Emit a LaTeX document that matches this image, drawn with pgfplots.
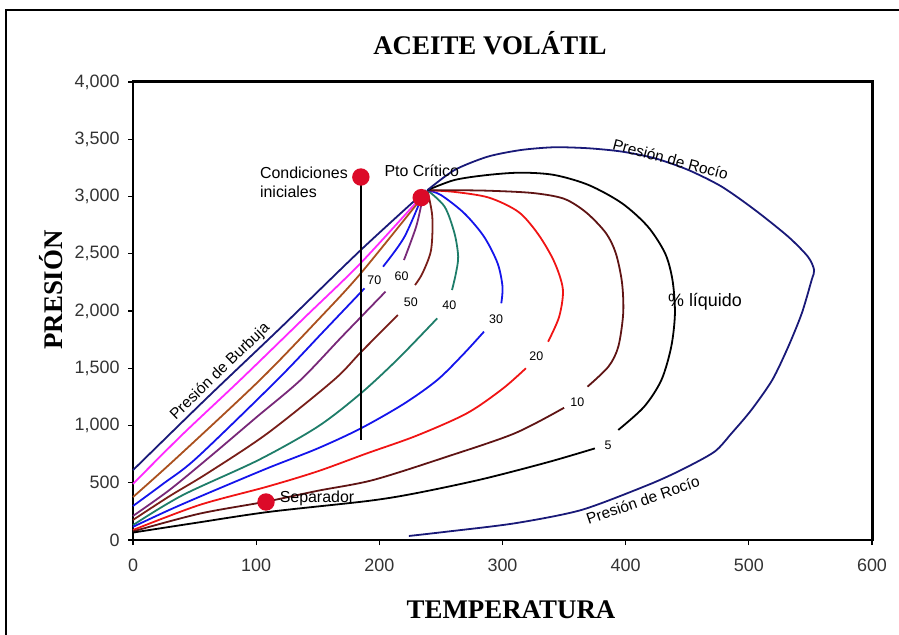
\documentclass[border=0pt]{standalone}
\usepackage{fontspec}
\setmainfont{Liberation Sans}
\newfontfamily\tnr{Liberation Serif}
\usepackage{pgfplots}
\pgfplotsset{compat=1.18}
\definecolor{navy}{RGB}{25,25,120}
\definecolor{mag}{RGB}{255,40,255}
\definecolor{brownA}{RGB}{170,80,30}
\definecolor{blueA}{RGB}{20,20,235}
\definecolor{purp}{RGB}{120,40,120}
\definecolor{dbrown}{RGB}{120,30,25}
\definecolor{tealA}{RGB}{30,125,105}
\definecolor{redA}{RGB}{240,20,20}
\definecolor{dbrownB}{RGB}{95,20,20}
\definecolor{mred}{RGB}{220,10,40}
\begin{document}
\begin{tikzpicture}
\useasboundingbox (0,0) rectangle (899bp,635bp);
\draw[line width=2.5bp] (6bp,-2bp) -- (6bp,625bp) -- (902bp,625bp);
\begin{axis}[
  at={(133bp,95bp)}, anchor=south west,
  scale only axis, width=739bp, height=458bp,
  xmin=0, xmax=600, ymin=0, ymax=4000,
  xtick={0,100,...,600}, ytick={0,500,...,4000},
  xtick pos=bottom, ytick pos=left,
  tick align=outside, major tick length=5bp,
  tick style={black, line width=1.2pt},
  separate axis lines,
  every outer x axis line/.append style={line width=3pt, line cap=rect},
  every outer y axis line/.append style={line width=3pt, line cap=rect},
  axis line style={line width=3pt, line cap=rect},
  ticklabel style={font=\fontsize{18}{20}\selectfont, text=black!80},
  xticklabel style={yshift=-10bp},
  yticklabel style={xshift=-5bp},
  /pgf/number format/1000 sep={,},
  /pgf/number format/assume math mode=true,
  clip=false,
  every axis plot/.append style={line width=1.8pt},
]
% Bubble point curve
\addplot[navy, smooth] coordinates {(0,610) (60,1240) (120,1855) (185,2533) (238,3055)};
% 90
\addplot[mag, smooth] coordinates {(0,490) (40,920) (87,1397) (140,1950) (185,2420) (236,3020)};
% 80
\addplot[brownA, smooth] coordinates {(0,375) (35,713) (103,1397) (150,1920) (185,2330) (235,2995)};
% 70
\addplot[blueA, smooth] coordinates {(0,297) (25,495) (52,720) (117,1397) (155,1825) (188,2198)};
\addplot[blueA, smooth] coordinates {(203,2387) (220,2640) (234,2980)};
% 60
\addplot[purp, smooth] coordinates {(0,210) (30,440) (65,750) (100,1070) (136,1397) (170,1780) (205,2169)};
\addplot[purp, smooth] coordinates {(220,2445) (230,2740) (235,2980)};
% 50
\addplot[dbrown, smooth] coordinates {(0,175) (30,385) (60,580) (109,930) (163,1397) (185,1640) (215,1965)};
\addplot[dbrown, smooth] coordinates {(229,2227) (235,2329) (242,2533) (243,2824) (239,3055)};
% 40
\addplot[tealA, smooth] coordinates {(0,130) (40,390) (102,699) (150,990) (185,1281) (215,1580) (247,1936)};
\addplot[tealA, smooth] coordinates {(259,2183) (262,2320) (264,2474) (261,2679) (253,2911) (239,3055)};
% 30
\addplot[blueA, smooth] coordinates {(0,115) (30,265) (60,405) (109,626) (150,800) (185,975) (220,1190) (247,1397) (268,1620) (285,1820)};
\addplot[blueA, smooth] coordinates {(299,2067) (300,2213) (296,2417) (285,2649) (269,2853) (250,3013) (239,3055)};
% 20
\addplot[redA, smooth] coordinates {(0,87) (54,306) (109,466) (150,600) (190,757) (230,910) (271,1106) (300,1320) (319,1500)};
\addplot[redA, smooth] coordinates {(337,1732) (346,1950) (349,2190) (342,2430) (329,2670) (313,2865) (289,2990) (261,3040) (239,3055)};
% 10
\addplot[dbrownB, smooth] coordinates {(0,75) (54,230) (108,335) (150,430) (195,524) (255,728) (310,932) (350,1155)};
\addplot[dbrownB, smooth] coordinates {(369,1339) (386,1514) (394,1688) (398,1980) (397,2250) (392,2504) (384,2680) (368,2860) (350,2980) (325,3030) (290,3050) (260,3055) (239,3055)};
% 5
\addplot[black, smooth] coordinates {(0,65) (50,148) (110,245) (190,340) (228,405) (283,530) (337,680) (375,800)};
\addplot[black, smooth] coordinates {(394,961) (415,1164) (429,1397) (437,1688) (440,1980) (438,2271) (432,2504) (418,2737) (397,2941) (370,3100) (342,3188) (315,3208) (288,3188) (261,3144) (239,3055)};
% Dew point curve
\addplot[navy, smooth, tension=0.45] coordinates {(224,35) (255,73) (310,146) (364,262) (418,480) (445,611) (472,770) (486,932) (502,1135) (519,1397) (532,1688) (543,1980) (551,2271) (553,2358) (548,2474) (532,2649) (505,2882) (478,3086) (451,3231) (424,3333) (397,3392) (370,3421) (342,3430) (315,3406) (288,3348) (261,3231) (239,3055)};
% Vertical path
\addplot[black, line width=2pt] coordinates {(185,3170) (185,870)};
% Points
\addplot[only marks, mark=*, mark size=7.8bp, color=mred] coordinates {(234,2990) (185,3170) (108,332)};
% Labels
\begin{scope}[every node/.style={font=\fontsize{12.5}{14}\selectfont, inner sep=1pt}]
\node at (axis cs:196,2271) {70};
\node at (axis cs:218,2300) {60};
\node at (axis cs:225.6,2081) {50};
\node at (axis cs:256.8,2052) {40};
\node at (axis cs:294.8,1930) {30};
\node at (axis cs:327.4,1607) {20};
\node at (axis cs:360.7,1202) {10};
\node at (axis cs:385.7,824) {5};
\end{scope}
\node[font=\fontsize{18}{20}\selectfont] at (axis cs:464.4,2081) {\% líquido};
\node[font=\fontsize{16}{18}\selectfont] at (axis cs:234.4,3225) {Pto Crítico};
\node[font=\fontsize{16}{19}\selectfont, align=left, anchor=west, inner sep=0pt] at (axis cs:103,3125) {Condiciones\\iniciales};
\node[font=\fontsize{16}{18}\selectfont, anchor=west, inner sep=0pt] at (axis cs:119,364) {Separador};
\node[font=\fontsize{15.5}{18}\selectfont, rotate=44] at (axis cs:70.8,1470) {Presión de Burbuja};
\node[font=\fontsize{15.5}{18}\selectfont, rotate=-15] at (axis cs:436.5,3327) {Presión de Rocío};
\node[font=\fontsize{15.5}{18}\selectfont, rotate=19] at (axis cs:414,349) {Presión de Rocío};
\end{axis}
\node[font=\tnr\bfseries\fontsize{27}{30}\selectfont, anchor=base] at (490bp,580bp) {ACEITE VOLÁTIL};
\node[font=\tnr\bfseries\fontsize{27}{30}\selectfont, anchor=base] at (511bp,17bp) {TEMPERATURA};
\node[font=\tnr\bfseries\fontsize{27}{30}\selectfont, anchor=base, rotate=90] at (62bp,345bp) {PRESIÓN};
\end{tikzpicture}
\end{document}
